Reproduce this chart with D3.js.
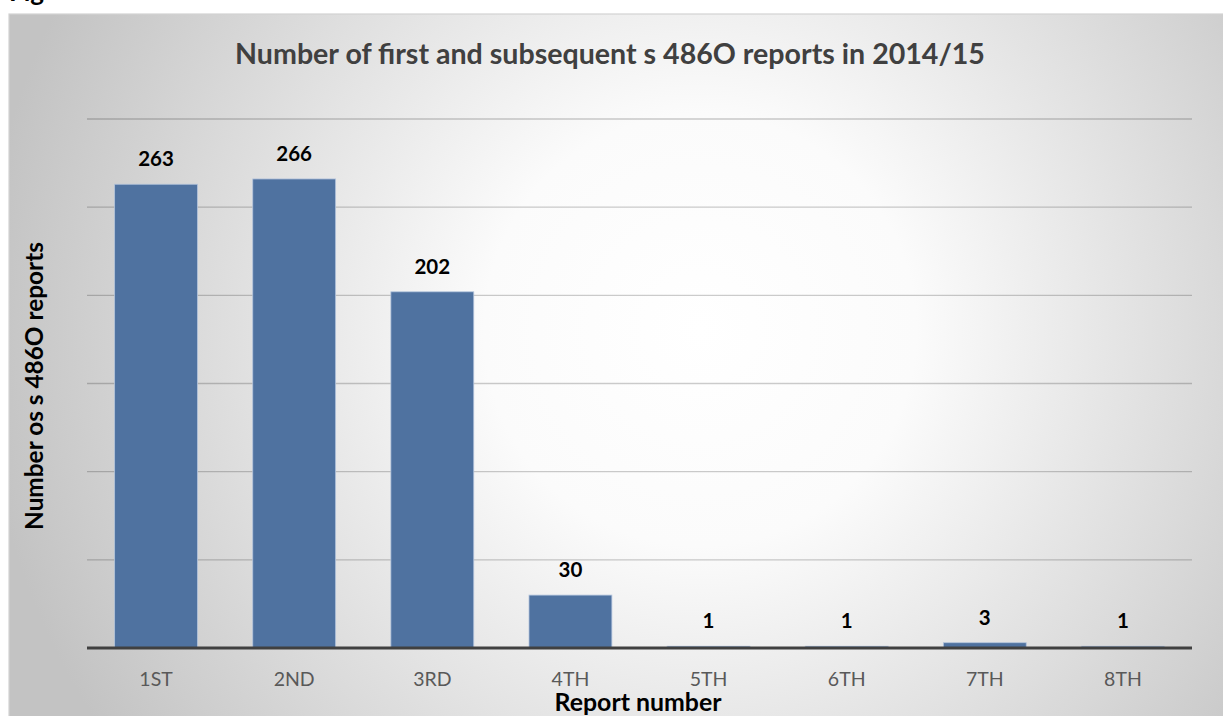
<!DOCTYPE html>
<html>
<head>
<meta charset="utf-8">
<script src="https://cdn.jsdelivr.net/npm/d3@7"></script>
<style>
  html, body { margin: 0; padding: 0; background: #ffffff; }
  svg { display: block; font-family: Lato, "Open Sans", sans-serif; }
</style>
</head>
<body>
<svg id="chart" width="1223" height="716"></svg>
<script>
// Report sequence and number of s 486O reports for each
const categories = ["1ST", "2ND", "3RD", "4TH", "5TH", "6TH", "7TH", "8TH"];
const reportCounts = [263, 266, 202, 30, 1, 1, 3, 1];
const gridValues = [50, 100, 150, 200, 250, 300];

const titleText = "Number of first and subsequent s 486O reports in 2014/15";
const xTitleText = "Report number";
const yTitleText = "Number os s 486O reports";

const W = 1223, H = 716;
const plot = { left: 87, right: 1192, top: 119, bottom: 648 };

const svg = d3.select("#chart");

// Chart frame with radial light-grey fill
const defs = svg.append("defs");
const grad = defs.append("radialGradient")
  .attr("id", "bgGrad")
  .attr("gradientUnits", "userSpaceOnUse")
  .attr("cx", 700).attr("cy", 330).attr("r", 720);
grad.append("stop").attr("offset", 0).attr("stop-color", "#ffffff");
grad.append("stop").attr("offset", 0.3).attr("stop-color", "#fbfbfb");
grad.append("stop").attr("offset", 1).attr("stop-color", "#c3c3c3");

svg.append("rect")
  .attr("x", 9).attr("y", 14)
  .attr("width", W - 9 + 2).attr("height", H - 14 + 2)
  .attr("fill", "url(#bgGrad)")
  .attr("stroke", "#d2d2d2").attr("stroke-width", 1.2);

// Figure caption above the frame
svg.append("text")
  .attr("x", 9).attr("y", 1)
  .attr("font-size", 26).attr("font-weight", 700)
  .attr("fill", "#000")
  .text("Fig");

const x = d3.scaleBand()
  .domain(categories)
  .range([plot.left, plot.right])
  .paddingInner(0.4)
  .paddingOuter(0.2);

const y = d3.scaleLinear()
  .domain([0, 300])
  .range([plot.bottom, plot.top]);

// Horizontal gridlines
svg.append("g")
  .selectAll("line")
  .data(gridValues)
  .join("line")
  .attr("x1", plot.left).attr("x2", plot.right)
  .attr("y1", d => y(d)).attr("y2", d => y(d))
  .attr("stroke", "#000").attr("stroke-opacity", 0.2)
  .attr("stroke-width", 1.4);

// Bars
svg.append("g")
  .selectAll("rect")
  .data(reportCounts)
  .join("rect")
  .attr("x", (d, i) => x(categories[i]))
  .attr("width", x.bandwidth())
  .attr("y", d => y(d))
  .attr("height", d => y(0) - y(d))
  .attr("fill", "#4f72a0")
  .attr("stroke", "#b3c4dc")
  .attr("stroke-width", 0.8);

// Category axis
const xAxis = svg.append("g")
  .attr("transform", `translate(0,${plot.bottom})`)
  .call(d3.axisBottom(x).tickSize(0).tickPadding(0));
xAxis.select(".domain")
  .attr("d", `M${plot.left},0H${plot.right}`)
  .attr("stroke", "#404040").attr("stroke-width", 3);
xAxis.selectAll(".tick text")
  .attr("y", 38).attr("dy", null)
  .attr("font-family", "Lato, sans-serif")
  .attr("font-size", 19.5)
  .attr("fill", "#595959");

// Value labels
svg.append("g")
  .selectAll("text")
  .data(reportCounts)
  .join("text")
  .attr("x", (d, i) => x(categories[i]) + x.bandwidth() / 2)
  .attr("y", d => y(d) - 18)
  .attr("text-anchor", "middle")
  .attr("font-size", 20.5).attr("font-weight", 700)
  .attr("fill", "#000")
  .text(d => d);

// Fit a label to a target width by adjusting its font size
function fitWidth(sel, width) {
  const fs = parseFloat(sel.attr("font-size"));
  const w = sel.node().getComputedTextLength();
  sel.attr("font-size", (fs * width / w).toFixed(2));
}

// Titles
const title = svg.append("text")
  .attr("x", 610).attr("y", 64)
  .attr("text-anchor", "middle")
  .attr("font-size", 26).attr("font-weight", 700)
  .attr("fill", "#404040")
  .text(titleText);
fitWidth(title, 750);

const xTitle = svg.append("text")
  .attr("x", 638).attr("y", 711)
  .attr("text-anchor", "middle")
  .attr("font-size", 20).attr("font-weight", 700)
  .attr("fill", "#000")
  .text(xTitleText);
fitWidth(xTitle, 167);

const yTitle = svg.append("text")
  .attr("transform", "translate(43,386) rotate(-90)")
  .attr("text-anchor", "middle")
  .attr("font-size", 20).attr("font-weight", 700)
  .attr("fill", "#000")
  .text(yTitleText);
fitWidth(yTitle, 288);
</script>
</body>
</html>
